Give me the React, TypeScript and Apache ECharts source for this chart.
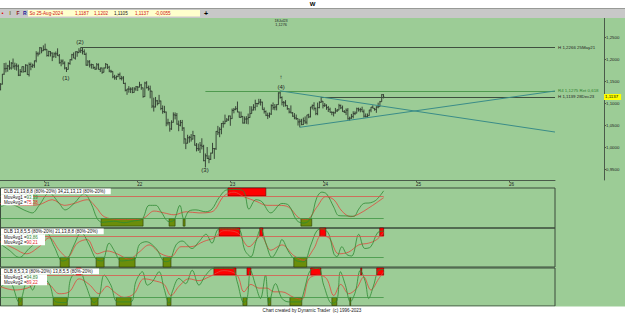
import React, { useEffect, useRef } from "react";
import * as echarts from "echarts";

// ---------- weekly EUR/USD bars (week index 0 = 06-Jul-2020) ----------
const opens = [
  1.1245,1.1300,1.1428,1.1655,1.1778,1.1786,1.1841,1.1795,1.1906,1.1836,1.1846,1.1838,1.1632,1.1715,1.1826,1.1716,1.1860,1.1646,1.1875,1.1833,1.1858,1.1960,1.2120,1.2113,1.2255,1.2187,
  1.2215,1.2220,1.2080,1.2170,1.2135,1.2048,1.2118,1.2118,1.2075,1.1915,1.1952,1.1905,1.1795,1.1763,1.1900,1.1985,1.2097,1.2020,1.2165,1.2145,1.2180,1.2193,1.2167,1.2105,1.1860,1.1935,
  1.1865,1.1875,1.1805,1.1770,1.1870,1.1762,1.1795,1.1698,1.1795,1.1880,1.1813,1.1725,1.1718,1.1595,1.1573,1.1600,1.1645,1.1557,1.1568,1.1444,1.1290,1.1318,1.1315,1.1315,1.1240,1.1320,
  1.1370,1.1360,1.1410,1.1345,1.1145,1.1455,1.1350,1.1320,1.1270,1.0930,1.0910,1.1050,1.0985,1.1045,1.0875,1.0805,1.0795,1.0545,1.0550,1.0410,1.0560,1.0730,1.0720,1.0520,1.0495,1.0555,
  1.0430,1.0185,1.0085,1.0210,1.0220,1.0180,1.0260,1.0040,0.9965,0.9955,1.0040,1.0015,0.9690,0.9800,0.9740,0.9720,0.9860,0.9965,0.9960,1.0355,1.0325,1.0400,1.0535,1.0530,1.0585,1.0615,
  1.0705,1.0645,1.0830,1.0855,1.0870,1.0795,1.0675,1.0695,1.0545,1.0635,1.0640,1.0670,1.0760,1.0840,1.0900,1.0990,1.0990,1.1020,1.1020,1.0850,1.0805,1.0720,1.0710,1.0750,1.0940,1.0895,
  1.0910,1.0965,1.1230,1.1125,1.1015,1.1005,1.0945,1.0870,1.0795,1.0775,1.0700,1.0660,1.0645,1.0570,1.0585,1.0510,1.0595,1.0565,1.0730,1.0685,1.0910,1.0945,1.0880,1.0760,1.0895,1.1015,
  1.1040,1.0940,1.0950,1.0895,1.0855,1.0790,1.0785,1.0775,1.0820,1.0840,1.0940,1.0890,1.0805,1.0790,1.0835,1.0640,1.0655,1.0695,1.0760,1.0770,1.0870,1.0847,1.0850,1.0800,1.0700,1.0690,
  1.0713,1.0840,1.0905,1.0880,1.0855,1.0910,1.0918,1.1030,1.1187
];
const highs = [
  1.1371,1.1452,1.1660,1.1909,1.1916,1.1866,1.1966,1.1930,1.2011,1.1917,1.1900,1.1873,1.1771,1.1831,1.1830,1.1881,1.1870,1.1920,1.1920,1.1895,1.1964,1.2177,1.2165,1.2273,1.2260,1.2310,
  1.2349,1.2223,1.2189,1.2180,1.2150,1.2150,1.2170,1.2243,1.2113,1.1990,1.1990,1.1945,1.1815,1.1927,1.1995,1.2117,1.2150,1.2170,1.2181,1.2245,1.2266,1.2254,1.2218,1.2145,1.1975,1.1975,
  1.1895,1.1880,1.1830,1.1909,1.1900,1.1805,1.1805,1.1810,1.1909,1.1885,1.1846,1.1755,1.1720,1.1640,1.1624,1.1670,1.1692,1.1616,1.1610,1.1464,1.1320,1.1383,1.1355,1.1360,1.1360,1.1386,
  1.1380,1.1482,1.1434,1.1350,1.1483,1.1495,1.1396,1.1395,1.1275,1.1121,1.1137,1.1070,1.1185,1.1054,1.0945,1.0936,1.0805,1.0642,1.0570,1.0606,1.0787,1.0786,1.0773,1.0601,1.0614,1.0615,
  1.0450,1.0190,1.0278,1.0254,1.0294,1.0368,1.0270,1.0090,1.0079,1.0113,1.0198,1.0050,0.9853,0.9999,0.9810,0.9873,1.0094,0.9976,1.0363,1.0480,1.0448,1.0545,1.0595,1.0736,1.0658,1.0714,
  1.0713,1.0874,1.0887,1.0929,1.1033,1.0805,1.0805,1.0705,1.0694,1.0700,1.0760,1.0930,1.0925,1.0973,1.1075,1.1000,1.1095,1.1092,1.1030,1.0900,1.0830,1.0780,1.0785,1.0970,1.1012,1.0976,
  1.0970,1.1244,1.1276,1.1150,1.1045,1.1065,1.0950,1.0880,1.0945,1.0795,1.0770,1.0737,1.0650,1.0640,1.0640,1.0670,1.0695,1.0730,1.0755,1.0910,1.0965,1.1017,1.0895,1.1009,1.1040,1.1139,
  1.1045,1.0999,1.0970,1.0933,1.0895,1.0810,1.0805,1.0888,1.0865,1.0981,1.0965,1.0942,1.0840,1.0876,1.0885,1.0690,1.0752,1.0812,1.0810,1.0895,1.0895,1.0889,1.0916,1.0852,1.0762,1.0762,
  1.0845,1.0910,1.0948,1.0885,1.0926,1.1008,1.1047,1.1201,1.1202
];
const lows = [
  1.1230,1.1290,1.1420,1.1640,1.1696,1.1711,1.1753,1.1759,1.1782,1.1753,1.1737,1.1612,1.1612,1.1686,1.1690,1.1700,1.1640,1.1603,1.1745,1.1800,1.1800,1.1923,1.2058,1.2110,1.2130,1.2180,
  1.2190,1.2054,1.2055,1.2058,1.1952,1.2040,1.2023,1.2070,1.1893,1.1835,1.1874,1.1762,1.1704,1.1760,1.1870,1.1965,1.2020,1.1986,1.2051,1.2135,1.2135,1.2104,1.2093,1.1847,1.1848,1.1807,
  1.1781,1.1772,1.1752,1.1765,1.1760,1.1705,1.1664,1.1695,1.1790,1.1772,1.1700,1.1683,1.1563,1.1530,1.1523,1.1588,1.1535,1.1513,1.1432,1.1264,1.1186,1.1235,1.1227,1.1222,1.1235,1.1276,
  1.1272,1.1355,1.1300,1.1121,1.1140,1.1329,1.1280,1.1106,1.0885,1.0806,1.0900,1.0945,1.0980,1.0837,1.0757,1.0770,1.0472,1.0490,1.0349,1.0390,1.0555,1.0627,1.0507,1.0359,1.0470,1.0366,
  1.0072,0.9952,1.0080,1.0098,1.0123,1.0170,1.0033,0.9900,0.9910,0.9864,0.9945,0.9675,0.9536,0.9730,0.9632,0.9705,0.9855,0.9730,0.9935,1.0272,1.0223,1.0290,1.0440,1.0520,1.0575,1.0595,
  1.0482,1.0640,1.0766,1.0835,1.0790,1.0669,1.0660,1.0533,1.0533,1.0525,1.0516,1.0665,1.0760,1.0830,1.0830,1.0908,1.0965,1.0942,1.0850,1.0760,1.0702,1.0635,1.0665,1.0730,1.0845,1.0835,
  1.0833,1.0960,1.1100,1.0945,1.0912,1.0920,1.0845,1.0765,1.0765,1.0685,1.0630,1.0615,1.0488,1.0448,1.0495,1.0500,1.0525,1.0515,1.0655,1.0672,1.0852,1.0828,1.0723,1.0723,1.0880,1.1005,
  1.0877,1.0910,1.0845,1.0795,1.0780,1.0723,1.0695,1.0761,1.0795,1.0835,1.0860,1.0800,1.0776,1.0725,1.0622,1.0601,1.0640,1.0650,1.0725,1.0765,1.0805,1.0788,1.0800,1.0668,1.0671,1.0666,
  1.0710,1.0790,1.0880,1.0825,1.0777,1.0880,1.0915,1.1030,1.1105
];
const closes = [
  1.1300,1.1428,1.1655,1.1778,1.1786,1.1841,1.1795,1.1906,1.1836,1.1846,1.1838,1.1632,1.1715,1.1826,1.1716,1.1860,1.1646,1.1875,1.1833,1.1858,1.1960,1.2120,1.2113,1.2255,1.2187,1.2215,
  1.2220,1.2080,1.2170,1.2135,1.2048,1.2118,1.2118,1.2075,1.1915,1.1952,1.1905,1.1795,1.1763,1.1900,1.1985,1.2097,1.2020,1.2165,1.2145,1.2180,1.2193,1.2167,1.2105,1.1860,1.1935,1.1865,
  1.1875,1.1805,1.1770,1.1870,1.1762,1.1795,1.1698,1.1795,1.1880,1.1813,1.1725,1.1718,1.1595,1.1573,1.1600,1.1645,1.1557,1.1568,1.1444,1.1290,1.1318,1.1315,1.1315,1.1240,1.1320,1.1370,
  1.1360,1.1410,1.1345,1.1145,1.1455,1.1350,1.1320,1.1270,1.0930,1.0910,1.1050,1.0985,1.1045,1.0875,1.0805,1.0795,1.0545,1.0550,1.0410,1.0560,1.0730,1.0720,1.0520,1.0495,1.0555,1.0430,
  1.0185,1.0085,1.0210,1.0220,1.0180,1.0260,1.0040,0.9965,0.9955,1.0040,1.0015,0.9690,0.9800,0.9740,0.9720,0.9860,0.9965,0.9960,1.0355,1.0325,1.0400,1.0535,1.0530,1.0585,1.0615,1.0705,
  1.0645,1.0830,1.0855,1.0870,1.0795,1.0675,1.0695,1.0545,1.0635,1.0640,1.0670,1.0760,1.0840,1.0900,1.0990,1.0990,1.1020,1.1020,1.0850,1.0805,1.0720,1.0710,1.0750,1.0940,1.0895,1.0910,
  1.0965,1.1230,1.1125,1.1015,1.1005,1.0945,1.0870,1.0795,1.0775,1.0700,1.0660,1.0645,1.0570,1.0585,1.0510,1.0595,1.0565,1.0730,1.0685,1.0910,1.0945,1.0880,1.0760,1.0895,1.1015,1.1040,
  1.0940,1.0950,1.0895,1.0855,1.0790,1.0785,1.0775,1.0820,1.0840,1.0940,1.0890,1.0805,1.0790,1.0835,1.0640,1.0655,1.0695,1.0760,1.0770,1.0870,1.0847,1.0850,1.0800,1.0700,1.0690,1.0713,
  1.0840,1.0905,1.0880,1.0855,1.0910,1.0918,1.1030,1.1192,1.1137
];

// ---------- axis ticks ----------
const yTicks = [0.95, 1.0, 1.05, 1.1, 1.15, 1.2, 1.25];
const yearTicks = [25.57, 77.71, 129.86, 182.0, 234.29, 286.43];
const yearLabels = ["21", "22", "23", "24", "25", "26"];

// ---------- drawn levels / trend lines ----------
const hLevels = [1.2266, 1.1275, 1.1139];
const hStarts = [46, 116, 181];
const hTexts = ["H 1,2266 25May21", "R4 1,1275 Ret 0,618", "H 1,1139 28Dec23"];
const trendFrom = [[158, 1.1276], [169, 1.0448]];
const trendTo = [[312.3, 1.034], [312.3, 1.1273]];
const lastPrice = 1.1137;
const lastPriceText = "1,1137";

// ---------- annotations ----------
const waveTexts = ["(1)", "(2)", "(3)", "(4)", "↑", "18Jul23\n1,1276"];
const waveAt = [[37.7, 1.1568], [45.6, 1.2387], [115.8, 0.9477], [158.5, 1.1364], [158.5, 1.1591], [158.5, 1.2818]];

// ---------- header ----------
const headerTexts = ["So 25-Aug-2024", "1,1187", "1,1202", "1,1105", "1,1137", "-0,0055"];

// ---------- oscillators: [week index, value] ----------
const osc1Fast = [[0,50],[5.6,58],[15.2,40],[18.5,35],[22.4,55],[28,88],[33.7,60],[37,43],[42,60],[47.7,86],[51.6,60],[55,20],[57.8,10],[64.5,13],[70.1,9],[75.7,14],[80.2,18],[84.2,55],[88,55],[90.9,38],[95.4,12],[98.2,16],[101.5,55],[103.8,18],[106.6,40],[110.5,43],[116,38],[119.5,45],[123.4,75],[127.9,96],[133,97],[137.4,92],[140.3,45],[144.2,70],[147.5,65],[152.6,35],[158.8,60],[162.7,55],[167.2,15],[171.1,8],[175,20],[178.4,75],[181.2,90],[184,85],[188,50],[190.7,28],[194.7,27],[199.2,26],[202,45],[204.8,60],[208.7,62],[212,70],[216,93.4]];
const osc1Slow = [[0,60],[15.2,55],[22.4,57],[29.7,70],[36.5,55],[42,60],[49.4,70],[54.4,50],[58.9,25],[67.3,18],[75.7,18],[81.4,22],[87,40],[92.6,35],[98.2,30],[104.9,38],[112.2,35],[119.5,38],[126.3,80],[131.9,90],[137.4,78],[144.8,65],[150.4,55],[157.1,55],[162.7,50],[168.3,22],[172.8,18],[178.4,50],[183.5,78],[188,70],[192.5,40],[197.5,25],[202,32],[207.6,48],[212,62],[216,75.4]];
const osc2Fast = [[0,60],[5.6,40],[11.2,20],[16.8,45],[22.4,70],[26.4,90],[30.9,50],[35.4,10],[38.2,15],[42,55],[46,90],[50.5,55],[54.4,15],[57.8,10],[61.7,60],[64.5,40],[68.5,10],[72.9,12],[76.3,15],[78.6,55],[82.5,64],[88.1,45],[93.2,8],[96,12],[99.3,55],[102.7,66],[108.3,45],[112.2,64],[116.2,85],[119.5,60],[123.5,100],[130.2,100],[134.7,98],[138,40],[141.4,22],[144.2,64],[147,100],[149.8,60],[153.2,20],[157.1,50],[158.8,70],[162.7,35],[167.2,10],[171.1,8],[175.1,55],[178.5,95],[181.8,100],[185.2,85],[188,30],[189.7,22],[192.5,50],[195.3,28],[198.1,24],[202,85],[205.4,45],[208.8,50],[212.7,90],[216,93.9]];
const osc2Slow = [[0,65],[8.4,45],[15.2,30],[22.4,50],[28,75],[33.7,40],[38.2,20],[43.8,60],[49.4,70],[55,30],[60.6,38],[66.2,30],[72.9,15],[78.6,35],[84.2,55],[90.9,30],[96.5,22],[102.1,50],[107.7,50],[115,65],[120.7,75],[126.3,95],[133.6,90],[140.3,50],[147,80],[152.6,40],[158.8,55],[165.5,25],[171.1,12],[176.8,45],[180.7,80],[185.2,75],[190.8,30],[196.4,35],[202,55],[207.6,60],[212.1,70],[216,90.2]];
const osc3Fast = [[0,45],[5.6,62],[11.2,6],[15.9,66],[18.7,40],[22.4,80],[28,57],[31.8,8],[37.4,6],[40.2,71],[44.9,93],[48.6,53],[53.3,6],[56.1,22],[58.9,80],[62.7,53],[66.4,8],[73.9,8],[76.7,62],[80.4,89],[83.2,53],[86,62],[89.8,89],[92.6,44],[95.4,4],[97.2,35],[101,71],[104.7,57],[108.4,93],[112.2,53],[116,80],[120.6,98],[130.9,98],[133.7,62],[137.4,6],[139.3,17],[141.2,93],[144,53],[146.8,17],[149.6,80],[151.5,4],[155.2,57],[158.9,17],[162.7,8],[169.3,8],[170.2,17],[172.1,53],[174.9,93],[179.5,98],[182.3,53],[187,4],[189.8,12],[191.7,89],[194.5,53],[197.3,8],[200.1,35],[202.9,93],[205.7,62],[207.6,17],[210.4,53],[213.2,93],[216,94.9]];
const osc3Slow = [[0,50],[8.4,40],[15.7,45],[22.4,60],[28,55],[33.7,30],[39.3,35],[44.9,70],[50.5,55],[56.1,30],[60.6,50],[64.5,35],[70.1,20],[75.7,30],[81.3,70],[87,65],[92.6,55],[96.5,25],[101,50],[106.6,70],[112.2,65],[117.8,75],[126.3,92],[133.6,80],[137.5,35],[141.4,55],[145.9,45],[150.4,45],[154.3,35],[158.8,35],[165.5,20],[170,15],[174,70],[179.6,80],[184,70],[188,25],[191.9,55],[196.4,30],[200.9,45],[204.8,75],[208.8,40],[213.2,70],[216,89.2]];

// overbought (red) / oversold (olive) zones: [from, to] week index
const zone1Over = [[128.5,149.8]];
const zone1Under = [[57.2,80.8],[95.4,98.8],[103.3,104.4],[169.5,175.6]];
const zone2Over = [[123.5,135.2],[146.4,148.1],[180.1,183.5],[213.8,216]];
const zone2Under = [[34.2,39.3],[54.4,58.9],[67.3,76.3],[92,96.5],[165.5,172.8]];
const zone3Over = [[43.2,46],[120.6,133],[139.2,141.4],[175,180.7],[203.1,203.7],[212.1,216]];
const zone3Under = [[10.7,12.9],[30.3,38.2],[51.6,55.5],[65.7,74.1],[94.3,96.5],[136.9,139.2],[151,152.6],[163.3,170],[186.9,189.7],[197,197.5]];

const dlbTitles = [
  "DLB 21,13,8,8 (80%-20%) 34,21,13,13 (80%-20%)",
  "DLB 13,8,5,5 (80%-20%) 21,13,8,8 (80%-20%)",
  "DLB 8,5,3,3 (80%-20%) 13,8,5,5 (80%-20%)",
];
const movAvg1 = ["93,39", "93,86", "94,89"];
const movAvg2 = ["75,38", "90,21", "89,22"];
const overLevel = 80;
const underLevel = 20;

// ---------- styling / layout ----------
const BG = "#9ccc96";
const FONT = "Liberation Sans, Arial, sans-serif";
const X_MIN = 0.67;
const X_MAX = 312.3;
const PANELS = [
  { top: 188, height: 40, min: -5, max: 101, floor: 0, boxW: 32 },
  { top: 228, height: 39, min: -7, max: 102.5, floor: -7, boxW: 44 },
  { top: 268, height: 38, min: -3, max: 99, floor: -1.5, boxW: 46 },
];

function buildOption() {
  const ohlc = opens.map((o, i) => [i, o, closes[i], lows[i], highs[i]]);
  const lastIdx = opens.length - 1;

  const grids: any[] = [{ left: 0, top: 18, width: 555, height: 162 }];
  const xAxes: any[] = [
    {
      type: "value", gridIndex: 0, min: X_MIN, max: X_MAX,
      axisLine: { show: true, lineStyle: { color: "#4a5a4a", width: 1 } },
      axisTick: { show: true, length: 2, customValues: yearTicks, lineStyle: { color: "#4a5a4a" } },
      axisLabel: {
        customValues: yearTicks, fontSize: 4.6, margin: 1.5, color: "#222", fontFamily: FONT, align: "left",
        formatter: (v: number) => {
          let best = 0;
          yearTicks.forEach((t, k) => { if (Math.abs(t - v) < Math.abs(yearTicks[best] - v)) best = k; });
          return yearLabels[best];
        },
      },
      splitLine: { show: false },
    },
  ];
  const yAxes: any[] = [
    {
      type: "value", gridIndex: 0, position: "right", offset: 49, min: 0.925, max: 1.2932,
      axisLine: { show: true, lineStyle: { color: "#4a5a4a", width: 1 } },
      axisTick: { show: true, length: 2, customValues: yTicks, lineStyle: { color: "#4a5a4a" } },
      axisLabel: {
        customValues: yTicks, fontSize: 4.4, margin: 2, color: "#222", fontFamily: FONT,
        formatter: (v: number) => v.toFixed(4).replace(".", ","),
      },
      splitLine: { show: false },
    },
  ];

  const series: any[] = [
    {
      type: "custom", xAxisIndex: 0, yAxisIndex: 0, clip: true, silent: true,
      data: ohlc,
      encode: { x: 0, y: [1, 2, 3, 4] },
      renderItem: (_p: any, api: any) => {
        const i = api.value(0);
        const pO = api.coord([i, api.value(1)]);
        const pC = api.coord([i, api.value(2)]);
        const pL = api.coord([i, api.value(3)]);
        const pH = api.coord([i, api.value(4)]);
        const st = { stroke: "#2e382e", lineWidth: 0.9 };
        return {
          type: "group",
          children: [
            { type: "line", shape: { x1: pH[0], y1: pH[1], x2: pL[0], y2: pL[1] }, style: st },
            { type: "line", shape: { x1: pO[0] - 0.9, y1: pO[1], x2: pO[0], y2: pO[1] }, style: st },
            { type: "line", shape: { x1: pC[0], y1: pC[1], x2: pC[0] + 0.9, y2: pC[1] }, style: st },
          ],
        };
      },
    },
    {
      type: "line", xAxisIndex: 0, yAxisIndex: 0, silent: true, symbol: "none",
      data: closes.map((c, i) => [i, c]),
      lineStyle: { width: 0, color: "transparent" },
      z: 5,
      markLine: {
        silent: true, symbol: ["none", "none"], animation: false,
        lineStyle: { type: "solid", width: 1 },
        data: [
          ...hLevels.map((lv, k) => [
            {
              coord: [hStarts[k], lv],
              lineStyle: { color: k === 1 ? "#4f9a4f" : "#3f4f3f", width: 1, type: "solid" },
              label: {
                show: true, position: "end", distance: 3, formatter: hTexts[k],
                fontSize: 4.4, fontFamily: FONT, color: k === 1 ? "#2f7f2f" : "#222",
              },
            },
            { coord: [X_MAX, lv] },
          ]),
          ...trendFrom.map((p, k) => [
            { coord: p, lineStyle: { color: "#3a8c88", width: 1, type: "solid" }, label: { show: false } },
            { coord: trendTo[k] },
          ]),
          [
            {
              coord: [X_MIN, lastPrice],
              lineStyle: { color: "transparent", width: 0 },
              label: {
                show: true, position: "end", distance: 49, formatter: lastPriceText,
                fontSize: 4.4, fontFamily: FONT, color: "#000", backgroundColor: "#ffff00",
                padding: [1, 3, 1, 1],
              },
            },
            { coord: [X_MAX, lastPrice] },
          ],
        ],
      },
      markPoint: {
        silent: true, symbol: "circle", symbolSize: 1, animation: false,
        itemStyle: { color: "transparent" },
        data: waveTexts.map((t, k) => ({
          coord: waveAt[k],
          label: {
            show: true, position: "inside", formatter: t,
            fontSize: k === 5 ? 3.8 : 6, lineHeight: k === 5 ? 4 : 7,
            fontFamily: FONT, color: "#1e1e1e",
          },
        })),
      },
    },
  ];

  const oscSets = [
    [osc1Fast, osc1Slow, zone1Over, zone1Under],
    [osc2Fast, osc2Slow, zone2Over, zone2Under],
    [osc3Fast, osc3Slow, zone3Over, zone3Under],
  ];

  PANELS.forEach((P, k) => {
    const g = k + 1;
    grids.push({
      left: 0.5, top: P.top, width: 554.5, height: P.height, show: true,
      borderColor: "#3b4b3b", borderWidth: 1, backgroundColor: "transparent",
    });
    xAxes.push({ type: "value", gridIndex: g, min: X_MIN, max: X_MAX, show: false });
    yAxes.push({ type: "value", gridIndex: g, min: P.min, max: P.max, show: false });
    const [fast, slow, over, under] = oscSets[k] as any;
    series.push({
      type: "line", xAxisIndex: g, yAxisIndex: g, silent: true, symbol: "none", smooth: 0.35,
      data: slow, lineStyle: { color: "#e2463c", width: 0.8 }, z: 3,
    });
    series.push({
      type: "line", xAxisIndex: g, yAxisIndex: g, silent: true, symbol: "none", smooth: 0.35,
      data: fast, lineStyle: { color: "#2f8a34", width: 0.8 }, z: 4,
      markArea: {
        silent: true, animation: false, label: { show: false },
        data: [
          ...over.map((z: number[]) => [
            { coord: [z[0], overLevel], itemStyle: { color: "#ff0000", borderColor: "#6a0000", borderWidth: 0.6 } },
            { coord: [z[1], P.max] },
          ]),
          ...under.map((z: number[]) => [
            { coord: [z[0], P.floor], itemStyle: { color: "#6b8e0a", borderColor: "#2c3a00", borderWidth: 0.6 } },
            { coord: [z[1], underLevel] },
          ]),
        ],
      },
      markLine: {
        silent: true, symbol: ["none", "none"], animation: false, label: { show: false },
        lineStyle: { type: "solid" },
        data: [
          [{ coord: [X_MIN, overLevel], lineStyle: { color: "#d9574c", width: 0.8, type: "solid" } }, { coord: [lastIdx, overLevel] }],
          [{ coord: [X_MIN, underLevel], lineStyle: { color: "#3f9443", width: 0.8, type: "solid" } }, { coord: [lastIdx, underLevel] }],
        ],
      },
    });
  });

  const txt = (x: number, y: number, text: string, fill: string, fontSize = 4.6, extra: any = {}) => ({
    type: "text", x, y, z: 100,
    style: { text, fill, fontSize, fontFamily: FONT, textVerticalAlign: "middle", verticalAlign: "middle", ...extra },
  });

  const graphic: any[] = [
    { type: "rect", z: 90, shape: { x: 0, y: 0, width: 625, height: 8.5 }, style: { fill: "#ffffff" } },
    { type: "rect", z: 90, shape: { x: 0, y: 8.5, width: 625, height: 9.5 }, style: { fill: "#c8c8c8" } },
    { type: "line", z: 91, shape: { x1: 0, y1: 8.5, x2: 625, y2: 8.5 }, style: { stroke: "#8a8a8a", lineWidth: 0.8 } },
    { type: "rect", z: 91, shape: { x: 28, y: 10, width: 172, height: 6.5 }, style: { fill: "#ffffcc" } },
    txt(312.5, 4.3, "W", "#000", 6, { fontWeight: "bold", align: "center", textAlign: "center" }),
    txt(1.5, 13.3, "•", "#e00000", 6),
    txt(9.5, 13.3, "I", "#7a7a00", 5, { fontWeight: "bold" }),
    txt(16.5, 13.3, "F", "#8a1a1a", 5, { fontWeight: "bold" }),
    txt(23, 13.3, "R", "#1a1a9a", 5, { fontWeight: "bold" }),
    txt(29.5, 13.3, headerTexts[0], "#d01010", 4.6),
    txt(75, 13.3, headerTexts[1], "#d01010", 4.6),
    txt(94, 13.3, headerTexts[2], "#d01010", 4.6),
    txt(114, 13.3, headerTexts[3], "#111", 4.6),
    txt(135, 13.3, headerTexts[4], "#d01010", 4.6),
    txt(155, 13.3, headerTexts[5], "#d01010", 4.6),
    txt(206, 13.3, "+", "#000", 7, { fontWeight: "bold", align: "center", textAlign: "center" }),
    { type: "rect", z: 90, shape: { x: 0, y: 306.5, width: 625, height: 6.5 }, style: { fill: "#ffffff" } },
    txt(312, 310, "Chart created by Dynamic Trader  (c) 1996-2023", "#222", 4.6, { align: "center", textAlign: "center" }),
  ];

  PANELS.forEach((P, k) => {
    const t0 = P.top + 0.5;
    graphic.push({ type: "rect", z: 95, shape: { x: 1, y: t0, width: dlbTitles[k].length * 2.35 + 4, height: 5.8 }, style: { fill: "#ffffff" } });
    graphic.push({ type: "rect", z: 95, shape: { x: 1, y: t0 + 5.8, width: P.boxW, height: 11 }, style: { fill: "#ffffff" } });
    graphic.push(txt(4, t0 + 3, dlbTitles[k], "#111", 4.5));
    graphic.push({
      type: "text", x: 4, y: t0 + 8.5, z: 100,
      style: {
        text: "{a|MovAvg1 =}{g|" + movAvg1[k] + "}", fontSize: 4.5, fontFamily: FONT, verticalAlign: "middle",
        rich: { a: { fill: "#111", fontSize: 4.5, fontFamily: FONT }, g: { fill: "#2f8a34", fontSize: 4.5, fontFamily: FONT } },
      },
    });
    graphic.push({
      type: "text", x: 4, y: t0 + 13.7, z: 100,
      style: {
        text: "{a|MovAvg2 =}{r|" + movAvg2[k] + "}", fontSize: 4.5, fontFamily: FONT, verticalAlign: "middle",
        rich: { a: { fill: "#111", fontSize: 4.5, fontFamily: FONT }, r: { fill: "#e2281c", fontSize: 4.5, fontFamily: FONT } },
      },
    });
  });

  return {
    animation: false,
    backgroundColor: BG,
    grid: grids,
    xAxis: xAxes,
    yAxis: yAxes,
    series,
    graphic,
  };
}

export default function App() {
  const ref = useRef<HTMLDivElement>(null);
  useEffect(() => {
    if (!ref.current) return;
    const chart = echarts.init(ref.current, null, { renderer: "svg" });
    chart.setOption(buildOption() as any);
    return () => chart.dispose();
  }, []);
  return (
    <div
      ref={ref}
      style={{ position: "fixed", left: 0, top: 0, width: 625, height: 313, background: BG }}
    />
  );
}
